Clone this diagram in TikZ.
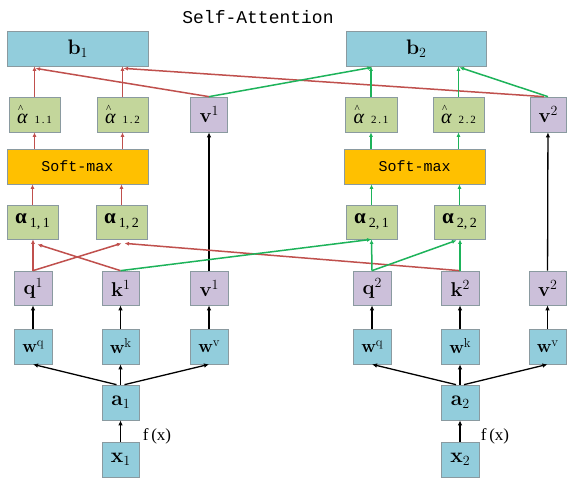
\documentclass[tikz,border=0pt]{standalone}
\usepackage{fontspec}
\usetikzlibrary{arrows.meta,calc}
\newfontfamily\monof{Liberation Mono}
\newfontfamily\serf{Liberation Serif}
\definecolor{cblue}{HTML}{92CDDC}
\definecolor{cpurp}{HTML}{CCC0DA}
\definecolor{cgrn}{HTML}{C3D69B}
\definecolor{corng}{HTML}{FFC000}
\definecolor{cred}{HTML}{C0504D}
\definecolor{cgline}{HTML}{1DB35A}
\definecolor{cedge}{HTML}{8A9AA0}
\newcommand{\ahat}[1]{{\serf\fontsize{20}{20}\selectfont\makebox[0pt][l]{\raisebox{11pt}{\fontsize{11}{11}\selectfont\hspace{1pt}\textasciicircum}}\itshape α}\hspace{7pt}{\serf\fontsize{11}{11}\selectfont #1}}
\newcommand{\alf}[1]{{\serf\bfseries\fontsize{21}{21}\selectfont α}\raisebox{-4pt}{\serf\fontsize{14}{14}\selectfont\hspace{3pt}#1}}
\newcommand{\bsub}[2]{{\bfseries\fontsize{21}{21}\selectfont #1}\raisebox{-3pt}{\fontsize{14}{14}\selectfont #2}}
\newcommand{\bsup}[2]{{\bfseries\fontsize{20}{20}\selectfont #1}\raisebox{7pt}{\fontsize{14}{14}\selectfont #2}}
\newcommand{\wsup}[1]{{\bfseries\fontsize{18}{18}\selectfont w}\raisebox{6pt}{\fontsize{13}{13}\selectfont #1}}
\begin{document}
\begin{tikzpicture}[x=1pt,y=-1pt,
  box/.style={draw=cedge, line width=0.7pt, inner sep=0pt, minimum height=35pt},
  bluebox/.style={box, fill=cblue},
  purpbox/.style={box, fill=cpurp},
  grnbox/.style={box, fill=cgrn},
  orbox/.style={box, fill=corng},
  redar/.style={draw=cred, line width=1.5pt, -{Latex[length=4.5pt,width=4pt]}},
  grnar/.style={draw=cgline, line width=1.5pt, -{Latex[length=4.5pt,width=4pt]}},
  blkar/.style={draw=black, line width=1.3pt, -{Latex[length=5pt,width=4.5pt]}}
]
\useasboundingbox (0,0) rectangle (567,481);
\fill[white] (0,0) rectangle (567,481);

% title
\node[font=\monof\fontsize{18}{18}\selectfont] (title) at (258,17) {Self-Attention};

% b row
\node[bluebox, minimum width=141pt] (b1) at (77.5,48.5) {\bsub{b}{1}};
\node[bluebox, minimum width=140pt] (b2) at (416,48.5) {\bsub{b}{2}};

% alpha-hat row
\node[grnbox, minimum width=51pt] (ah11) at (34.5,114.5) {\ahat{1\,.\,1}};
\node[grnbox, minimum width=51pt] (ah12) at (122.5,114.5) {\ahat{1\,.\,2}};
\node[purpbox, minimum width=37pt] (vt1) at (209,114.5) {\bsup{v}{1}};
\node[grnbox, minimum width=52pt] (ah21) at (371,114.5) {\ahat{2\,.\,1}};
\node[grnbox, minimum width=51pt] (ah22) at (458.5,114.5) {\ahat{2\,.\,2}};
\node[purpbox, minimum width=36pt] (vt2) at (548,114.5) {\bsup{v}{2}};

% softmax
\node[orbox, minimum width=141pt, font=\monof\fontsize{15}{15}\selectfont] (sm1) at (77.5,166.5) {Soft-max};
\node[orbox, minimum width=141pt, font=\monof\fontsize{15}{15}\selectfont] (sm2) at (414.5,166.5) {Soft-max};

% alpha row
\node[grnbox, minimum width=51pt, minimum height=34pt] (a11) at (32.5,222) {\alf{1,\,1}};
\node[grnbox, minimum width=51pt, minimum height=34pt] (a12) at (121.5,222) {\alf{1,\,2}};
\node[grnbox, minimum width=51pt, minimum height=34pt] (a21) at (371.5,222) {\alf{2,\,1}};
\node[grnbox, minimum width=51pt, minimum height=34pt] (a22) at (459.5,222) {\alf{2,\,2}};

% q k v row
\node[purpbox, minimum width=38pt, minimum height=34pt] (q1) at (33,288) {\bsup{q}{1}};
\node[purpbox, minimum width=37pt, minimum height=34pt] (k1) at (120.5,288) {\bsup{k}{1}};
\node[purpbox, minimum width=38pt, minimum height=34pt] (v1) at (209,288) {\bsup{v}{1}};
\node[purpbox, minimum width=38pt, minimum height=34pt] (q2) at (372,288) {\bsup{q}{2}};
\node[purpbox, minimum width=38pt, minimum height=34pt] (k2) at (460,288) {\bsup{k}{2}};
\node[purpbox, minimum width=37pt, minimum height=34pt] (v2) at (547.5,288) {\bsup{v}{2}};

% w row
\node[bluebox, minimum width=38pt] (wq1) at (33,346.5) {\wsup{q}};
\node[bluebox, minimum width=37pt] (wk1) at (120.5,346.5) {\wsup{k}};
\node[bluebox, minimum width=38pt] (wv1) at (209,346.5) {\wsup{v}};
\node[bluebox, minimum width=38pt] (wq2) at (372,346.5) {\wsup{q}};
\node[bluebox, minimum width=38pt] (wk2) at (460,346.5) {\wsup{k}};
\node[bluebox, minimum width=37pt] (wv2) at (547.5,346.5) {\wsup{v}};

% a and x
\node[bluebox, minimum width=37pt] (a1) at (120.5,402.5) {\bsub{a}{1}};
\node[bluebox, minimum width=37pt] (x1) at (120.5,459.5) {\bsub{x}{1}};
\node[bluebox, minimum width=38pt] (a2) at (460,402.5) {\bsub{a}{2}};
\node[bluebox, minimum width=38pt] (x2) at (460,459.5) {\bsub{x}{2}};
\node[font=\serf\fontsize{17}{17}\selectfont] (fx1) at (157,436) {f\,(x)};
\node[font=\serf\fontsize{17}{17}\selectfont] (fx2) at (495,436) {f\,(x)};

% black arrows
\draw[blkar] (x1) -- (a1);
\draw[blkar] (x2) -- (a2);
\draw[blkar] ([xshift=-4pt]a1.north) -- (wq1.south);
\draw[blkar] (a1.north) -- (wk1.south);
\draw[blkar] ([xshift=4pt]a1.north) -- (wv1.south);
\draw[blkar] ([xshift=-4pt]a2.north) -- (wq2.south);
\draw[blkar] (a2.north) -- (wk2.south);
\draw[blkar] ([xshift=4pt]a2.north) -- (wv2.south);
\foreach \w/\t in {wq1/q1,wk1/k1,wv1/v1,wq2/q2,wk2/k2,wv2/v2}
  \draw[blkar] (\w) -- (\t);
\draw[blkar] (v1) -- (vt1);
\draw[blkar] (v2) -- (vt2);

% q,k -> alpha
\draw[redar] (q1.north) -- (q1.north |- a11.south);
\draw[redar] (q1.north) -- ($(a12.south)+(0,4)$);
\draw[redar] (k1.north) -- ($(a11.south)+(5,5)$);
\draw[redar] (k2.north) -- ($(a12.south)+(3,4)$);
\draw[grnar] (k1.north) -- (a21.south);
\draw[grnar] (q2.north) -- (a21.south);
\draw[grnar] (q2.north) -- ($(a22.south)+(-3,1)$);
\draw[grnar] (k2.north) -- (k2.north |- a22.south);

% alpha -> softmax -> alpha hat
\draw[redar] (a11.north) -- (a11.north |- sm1.south);
\draw[redar] (a12.north) -- (a12.north |- sm1.south);
\draw[redar] (ah11.south |- sm1.north) -- (ah11.south);
\draw[redar] (ah12.south |- sm1.north) -- (ah12.south);
\draw[grnar] (a21.north) -- (a21.north |- sm2.south);
\draw[grnar] (a22.north) -- (a22.north |- sm2.south);
\draw[grnar] (ah21.south |- sm2.north) -- (ah21.south);
\draw[grnar] (ah22.south |- sm2.north) -- (ah22.south);

% to b
\draw[redar] (ah11.north) -- (ah11.north |- b1.south);
\draw[redar] (ah12.north) -- (ah12.north |- b1.south);
\draw[redar] (vt1.north) -- ($(ah11.north |- b1.south)+(1,2)$);
\draw[redar] ([xshift=-4pt]vt2.north) -- ($(ah12.north |- b1.south)+(1,2)$);
\draw[grnar] (ah21.north) -- (ah21.north |- b2.south);
\draw[grnar] (ah22.north) -- (ah22.north |- b2.south);
\draw[grnar] (vt1.north) -- ($(ah21.north |- b2.south)+(1,1)$);
\draw[grnar] (vt2.north) -- ($(ah22.north |- b2.south)+(1,1)$);
\end{tikzpicture}
\end{document}
